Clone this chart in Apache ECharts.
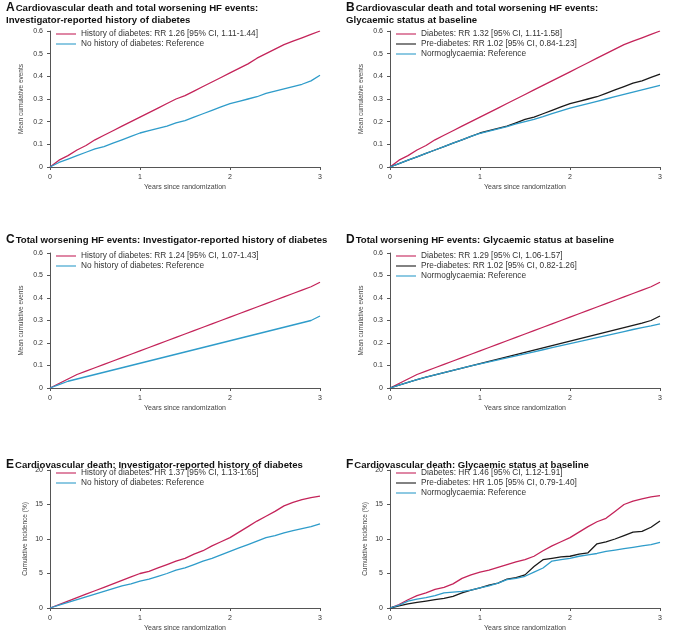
<!DOCTYPE html><html><head><meta charset="utf-8">
<script src="https://cdn.jsdelivr.net/npm/echarts@6/dist/echarts.min.js"></script>
<style>html,body{margin:0;background:#fff}#c{width:680px;height:639px}</style></head><body><div id="c"></div><script>
const years=[0,.1,.2,.3,.4,.5,.6,.7,.8,.9,1,1.1,1.2,1.3,1.4,1.5,1.6,1.7,1.8,1.9,2,2.1,2.2,2.3,2.4,2.5,2.6,2.7,2.8,2.9,3];
const aDiab=[0,.03,.05,.075,.095,.12,.14,.16,.18,.20,.22,.24,.26,.28,.30,.315,.335,.355,.375,.395,.415,.435,.455,.48,.50,.52,.54,.555,.57,.585,.60];
const aNo=[0,.02,.035,.05,.065,.08,.09,.105,.12,.135,.15,.16,.17,.18,.195,.205,.22,.235,.25,.265,.28,.29,.30,.31,.325,.335,.345,.355,.365,.38,.405];
const bDiab=[0,.03,.05,.075,.095,.12,.14,.16,.18,.20,.22,.24,.26,.28,.30,.32,.34,.36,.38,.40,.42,.44,.46,.48,.50,.52,.54,.555,.57,.585,.60];
const bPre=[0,.015,.03,.045,.06,.075,.09,.105,.12,.135,.15,.16,.17,.18,.195,.21,.22,.235,.25,.265,.28,.29,.30,.31,.325,.34,.355,.37,.38,.395,.41];
const bNorm=[0,.015,.03,.045,.06,.075,.09,.105,.12,.135,.148,.158,.168,.178,.19,.20,.21,.222,.235,.248,.26,.27,.28,.29,.30,.31,.32,.33,.34,.35,.36];
const cDiab=[0,.02,.04,.06,.075,.09,.105,.12,.135,.15,.165,.18,.195,.21,.225,.24,.255,.27,.285,.30,.315,.33,.345,.36,.375,.39,.405,.42,.435,.45,.47];
const cNo=[0,.015,.03,.04,.05,.06,.07,.08,.09,.10,.11,.12,.13,.14,.15,.16,.17,.18,.19,.20,.21,.22,.23,.24,.25,.26,.27,.28,.29,.30,.32];
const dDiab=[0,.02,.04,.06,.075,.09,.105,.12,.135,.15,.165,.18,.195,.21,.225,.24,.255,.27,.285,.30,.315,.33,.345,.36,.375,.39,.405,.42,.435,.45,.47];
const dPre=[0,.013,.025,.037,.048,.058,.068,.078,.088,.098,.108,.118,.128,.138,.148,.158,.168,.178,.188,.198,.208,.218,.228,.238,.248,.258,.268,.278,.288,.30,.32];
const dNorm=[0,.013,.025,.037,.048,.058,.068,.078,.088,.098,.107,.116,.125,.134,.143,.152,.161,.170,.179,.188,.197,.206,.215,.224,.233,.242,.251,.26,.268,.276,.285];
const eDiab=[0,.5,1,1.5,2,2.5,3,3.5,4,4.5,5,5.3,5.8,6.3,6.8,7.2,7.8,8.3,9,9.6,10.2,11,11.8,12.6,13.3,14,14.8,15.3,15.7,16,16.2];
const eNo=[0,.4,.8,1.2,1.6,2,2.4,2.8,3.2,3.5,3.9,4.2,4.6,5,5.5,5.8,6.3,6.8,7.2,7.7,8.2,8.7,9.2,9.7,10.2,10.5,10.9,11.2,11.5,11.8,12.2];
const fDiab=[0,.5,1.2,1.8,2.2,2.7,3.0,3.5,4.3,4.8,5.2,5.5,5.9,6.3,6.7,7.0,7.5,8.3,9.0,9.6,10.2,11,11.8,12.5,13,14,15,15.5,15.8,16.1,16.3];
const fPre=[0,.3,.6,.8,1.0,1.2,1.4,1.7,2.2,2.6,2.9,3.3,3.6,4.2,4.4,4.8,6.0,7.0,7.2,7.4,7.5,7.8,8.0,9.3,9.6,10.0,10.5,11,11.1,11.7,12.6];
const fNorm=[0,.4,1.0,1.3,1.5,1.8,2.2,2.3,2.4,2.6,2.9,3.2,3.6,4.1,4.3,4.6,5.2,5.8,6.8,7.0,7.2,7.5,7.7,7.9,8.2,8.4,8.6,8.8,9.0,9.2,9.5];
const titles=[["A","Cardiovascular death and total worsening HF events:\nInvestigator-reported history of diabetes"],
["B","Cardiovascular death and total worsening HF events:\nGlycaemic status at baseline"],
["C","Total worsening HF events: Investigator-reported history of diabetes"],
["D","Total worsening HF events: Glycaemic status at baseline"],
["E","Cardiovascular death: Investigator-reported history of diabetes"],
["F","Cardiovascular death: Glycaemic status at baseline"]];
const RED='#c4245a',BLUE='#2f9cca',BLK='#1a1a1a';
const panels=[
 [["History of diabetes: RR 1.26 [95% CI, 1.11-1.44]",aDiab,RED],["No history of diabetes: Reference",aNo,BLUE]],
 [["Diabetes: RR 1.32 [95% CI, 1.11-1.58]",bDiab,RED],["Pre-diabetes: RR 1.02 [95% CI, 0.84-1.23]",bPre,BLK],["Normoglycaemia: Reference",bNorm,BLUE]],
 [["History of diabetes: RR 1.24 [95% CI, 1.07-1.43]",cDiab,RED],["No history of diabetes: Reference ",cNo,BLUE]],
 [["Diabetes: RR 1.29 [95% CI, 1.06-1.57]",dDiab,RED],["Pre-diabetes: RR 1.02 [95% CI, 0.82-1.26]",dPre,BLK],["Normoglycaemia: Reference ",dNorm,BLUE]],
 [["History of diabetes: HR 1.37 [95% CI, 1.13-1.65]",eDiab,RED],["No history of diabetes: Reference  ",eNo,BLUE]],
 [["Diabetes: HR 1.46 [95% CI, 1.12-1.91]",fDiab,RED],["Pre-diabetes: HR 1.05 [95% CI, 0.79-1.40]",fPre,BLK],["Normoglycaemia: Reference  ",fNorm,BLUE]]];
const tops=[31,253,470],bots=[472,251,31],lefts=[50,390],rights=[360,20],ttops=[2,234,459];
const grid=[],xAxis=[],yAxis=[],series=[],legend=[],title=[];
panels.forEach((p,i)=>{
 const r=Math.floor(i/2),c=i%2,surv=r===2;
 grid.push({left:lefts[c],right:rights[c],top:tops[r],bottom:bots[r]});
 title.push({left:lefts[c]-44,top:ttops[r],padding:0,text:'{l|'+titles[i][0]+'}{t|'+titles[i][1].replace('\n','}\n{t|')+'}',textStyle:{rich:{l:{fontSize:12,fontWeight:'bold',fontFamily:'Liberation Sans',color:'#111',padding:[0,1,0,0]},t:{fontSize:9.6,fontWeight:'bold',fontFamily:'Liberation Sans',color:'#111',lineHeight:12}}}});
 xAxis.push({gridIndex:i,type:'value',min:0,max:3,interval:1,offset:3,name:'Years since randomization',nameLocation:'middle',nameGap:14,nameTextStyle:{fontSize:7,color:'#444'},axisLine:{lineStyle:{color:'#555'}},axisTick:{length:3},axisLabel:{fontSize:7,color:'#333',margin:4},splitLine:{show:false}});
 yAxis.push({gridIndex:i,type:'value',min:0,max:surv?20:0.6,interval:surv?5:0.1,offset:3,name:surv?'Cumulative incidence (%)':'Mean cumulative events',nameLocation:'middle',nameGap:surv?18:22,nameTextStyle:{fontSize:6.5,color:'#444'},axisLine:{show:true,lineStyle:{color:'#555'}},axisTick:{show:true,length:3},axisLabel:{fontSize:7,color:'#333',margin:4,showMaxLabel:true},splitLine:{show:false}});
 legend.push({left:lefts[c]+6,top:tops[r]-1,padding:0,orient:'vertical',itemWidth:20,itemHeight:8,itemGap:2,icon:'path://M0 4L22 4L22 5.2L0 5.2Z',textStyle:{fontSize:8.3,color:'#333'},data:p.map(s=>s[0]),selectedMode:false});
 p.forEach(s=>series.push({type:'line',name:s[0],xAxisIndex:i,yAxisIndex:i,showSymbol:false,data:years.map((y,k)=>[y,s[1][k]]),lineStyle:{width:1.3,color:s[2]},itemStyle:{color:s[2]}}));
});
echarts.init(document.getElementById('c')).setOption({animation:false,textStyle:{fontFamily:'Liberation Sans'},title,grid,xAxis,yAxis,legend,series});
</script></body></html>
